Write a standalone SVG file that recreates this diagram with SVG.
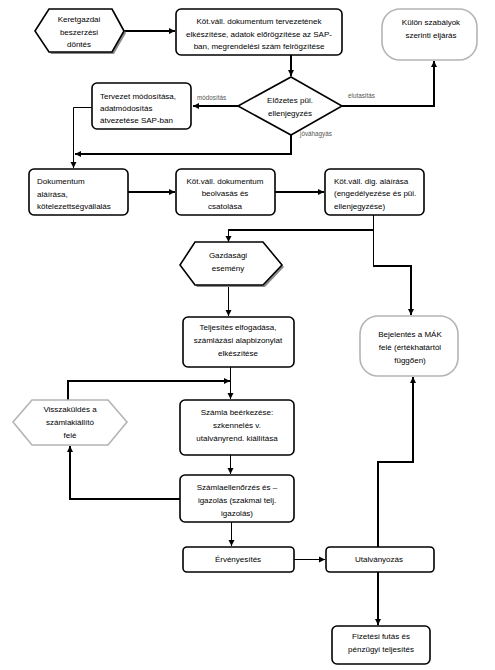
<svg xmlns="http://www.w3.org/2000/svg" width="495" height="670" viewBox="0 0 495 670">
<defs>
<marker id="ah" markerUnits="userSpaceOnUse" markerWidth="7" markerHeight="7" refX="6" refY="3.5" orient="auto">
<path d="M0,0.5 L6,3.5 L0,6.5 z" fill="#000"/>
</marker>
<style>
text{font-family:"Liberation Sans",Arial,sans-serif;font-size:8px;fill:#000}
.c{text-anchor:middle}
.lbl{font-size:6.3px;fill:#555}
.box{fill:#fff;stroke:#000;stroke-width:1.6}
.gbox{fill:#fff;stroke:#b4b4b4;stroke-width:1.6}
.sh{fill:#8a8a8a;stroke:none}
.thk{fill:none;stroke:#000;stroke-width:2}
.thn{fill:none;stroke:#000;stroke-width:1}
</style>
</defs>
<rect width="495" height="670" fill="#fff"/>

<g id="connectors">
<path class="thk" d="M124,31 H175" marker-end="url(#ah)"/>
<path class="thk" d="M291,55 V76" marker-end="url(#ah)"/>
<path class="thk" d="M342,106 H434 V61" marker-end="url(#ah)"/>
<path class="thk" d="M238,106 H193" marker-end="url(#ah)"/>
<path class="thn" d="M92,107.5 H73.5 V168" marker-end="url(#ah)"/>
<path class="thk" d="M291,135 V154 H75" marker-end="url(#ah)"/>
<path class="thk" d="M128,192 H175" marker-end="url(#ah)"/>
<path class="thk" d="M275,192 H324" marker-end="url(#ah)"/>
<path class="thn" d="M373.5,215 V266"/>
<path class="thk" d="M374,230 H228"/>
<path class="thn" d="M228.5,230 V242" marker-end="url(#ah)"/>
<path class="thk" d="M373,266 H411 V315" marker-end="url(#ah)"/>
<path class="thn" d="M228.5,285 V316" marker-end="url(#ah)"/>
<path class="thn" d="M230.5,367 V399" marker-end="url(#ah)"/>
<path class="thk" d="M68,400 V381 H230" marker-end="url(#ah)"/>
<path class="thn" d="M230.5,455 V474" marker-end="url(#ah)"/>
<path class="thk" d="M180,499 H70 V446" marker-end="url(#ah)"/>
<path class="thn" d="M231.5,522 V546" marker-end="url(#ah)"/>
<path class="thn" d="M294,559.5 H325" marker-end="url(#ah)"/>
<path class="thk" d="M378,547 V462 H413 V377" marker-end="url(#ah)"/>
<path class="thk" d="M378,572 V625" marker-end="url(#ah)"/>
<text class="lbl" x="197" y="100">módosítás</text>
<text class="lbl" x="348" y="98">elutasítás</text>
<text class="lbl" x="300" y="136">jóváhagyás</text>
</g>

<g id="keretgazdasagi">
<polygon class="sh" points="37,33 51,11 114,11 126,33 114,54 51,54"/>
<polygon class="box" points="35,31 49,9 112,9 124,31 112,52 49,52"/>
<text class="c" x="79" y="22">Keretgazdai</text>
<text class="c" x="79" y="34.5">beszerzési</text>
<text class="c" x="79" y="47">döntés</text>
</g>

<g id="tervezet-keszites">
<rect class="box" x="176" y="9" width="166" height="46" rx="5"/>
<text class="c" x="259" y="24">Köt.váll. dokumentum tervezetének</text>
<text class="c" x="259" y="36.5">elkészítése, adatok előrögzítése az SAP-</text>
<text class="c" x="259" y="49">ban, megrendelési szám felrögzítése</text>
</g>

<g id="kulon-szabalyok">
<rect class="gbox" x="382" y="9" width="95" height="51" rx="18"/>
<text class="c" x="431" y="25">Külön szabályok</text>
<text class="c" x="431" y="38">szerinti eljárás</text>
</g>

<g id="elozetes">
<polygon class="box" points="291,77 342,106 291,135 238,106"/>
<text class="c" x="290" y="103">Előzetes püi.</text>
<text class="c" x="290" y="115.5">ellenjegyzés</text>
</g>

<g id="tervezet-modositas">
<rect class="box" x="92" y="83" width="99" height="46" rx="5"/>
<text x="100" y="99">Tervezet módosítása,</text>
<text x="100" y="111">adatmódosítás</text>
<text x="100" y="123">átvezetése SAP-ban</text>
</g>

<g id="dokumentum-alairas">
<rect class="box" x="29" y="169" width="99" height="46" rx="5"/>
<text x="37" y="184">Dokumentum</text>
<text x="37" y="196.5">aláírása,</text>
<text x="37" y="209">kötelezettségvállalás</text>
</g>

<g id="beolvasas">
<rect class="box" x="176" y="169" width="99" height="46" rx="5"/>
<text class="c" x="225" y="183.5">Köt.váll. dokumentum</text>
<text class="c" x="225" y="196">beolvasás és</text>
<text class="c" x="225" y="208.5">csatolása</text>
</g>

<g id="dig-alairas">
<rect class="box" x="325" y="169" width="99" height="46" rx="5"/>
<text x="334" y="183.5">Köt.váll. dig. aláírása</text>
<text x="334" y="196">(engedélyezése és püi.</text>
<text x="334" y="208.5">ellenjegyzése)</text>
</g>

<g id="gazdasagi-esemeny">
<polygon class="sh" points="182,267 197,244 265,244 284,267 265,287 197,287"/>
<polygon class="box" points="180,265 195,242 263,242 282,265 263,285 195,285"/>
<text class="c" x="228" y="258">Gazdasági</text>
<text class="c" x="228" y="270.5">esemény</text>
</g>

<g id="teljesites">
<rect class="box" x="183" y="317" width="111" height="50" rx="5"/>
<text class="c" x="238" y="330">Teljesítés elfogadása,</text>
<text class="c" x="238" y="343">számlázási alapbizonylat</text>
<text class="c" x="238" y="356">elkészítése</text>
</g>

<g id="visszakuldes">
<polygon class="gbox" points="13,422 32,400 108,400 127,422 108,445 32,445"/>
<text class="c" x="70" y="412">Visszaküldés a</text>
<text class="c" x="70" y="425">számlakiállító</text>
<text class="c" x="70" y="438">felé</text>
</g>

<g id="szamla-beerkezes">
<rect class="box" x="180" y="400" width="114" height="55" rx="5"/>
<text class="c" x="237" y="415">Számla beérkezése:</text>
<text class="c" x="237" y="428">szkennelés v.</text>
<text class="c" x="237" y="441">utalványrend. kiállítása</text>
</g>

<g id="szamlaellenorzes">
<rect class="box" x="180" y="475" width="114" height="47" rx="5"/>
<text class="c" x="237" y="490">Számlaellenőrzés és –</text>
<text class="c" x="237" y="503">igazolás (szakmai telj.</text>
<text class="c" x="237" y="516">igazolás)</text>
</g>

<g id="mak">
<rect class="gbox" x="360" y="316" width="98" height="60" rx="18"/>
<text class="c" x="410" y="337">Bejelentés a MÁK</text>
<text class="c" x="410" y="350">felé (értékhatártól</text>
<text class="c" x="410" y="363">függően)</text>
</g>

<g id="ervenyesites">
<rect class="box" x="183" y="547" width="111" height="25" rx="4"/>
<text class="c" x="238" y="562">Érvényesítés</text>
</g>

<g id="utalvanyozas">
<rect class="box" x="326" y="547" width="108" height="25" rx="4"/>
<text class="c" x="379" y="562">Utalványozás</text>
</g>

<g id="fizetesi-futas">
<rect class="box" x="332" y="626" width="98" height="38" rx="5"/>
<text class="c" x="381" y="639">Fizetési futás és</text>
<text class="c" x="381" y="652">pénzügyi teljesítés</text>
</g>
</svg>
